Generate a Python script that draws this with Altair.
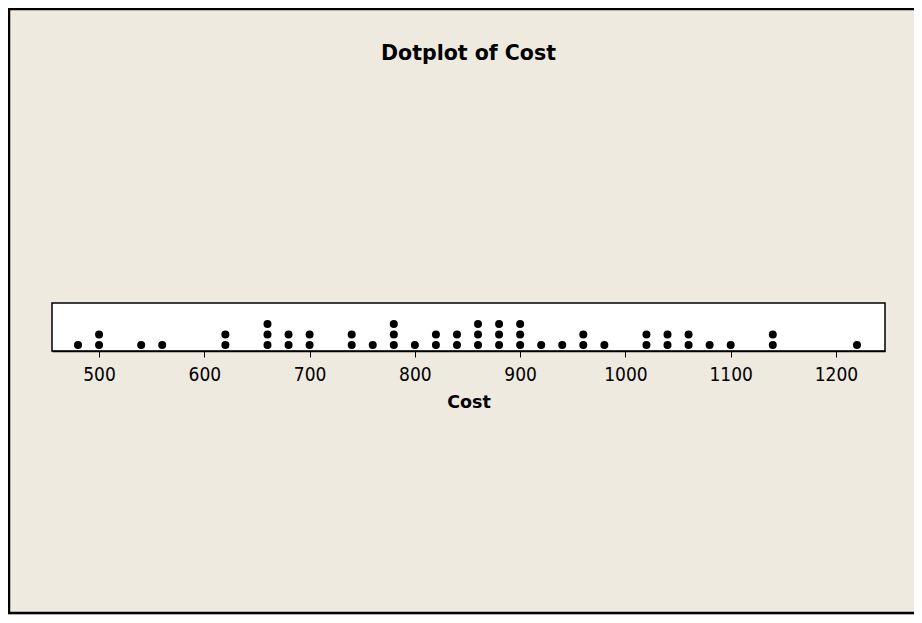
import altair as alt
import pandas as pd

# Dotplot bins (Cost value) and number of stacked dots at each
cost_bins = [480, 500, 540, 560, 620, 660, 680, 700, 740, 760, 780, 800, 820, 840,
             860, 880, 900, 920, 940, 960, 980, 1020, 1040, 1060, 1080, 1100, 1140, 1220]
counts = [1, 2, 1, 1, 2, 3, 2, 2, 2, 1, 3, 1, 2, 2,
          3, 3, 3, 1, 1, 2, 1, 2, 2, 2, 1, 1, 2, 1]
x_ticks = [500, 600, 700, 800, 900, 1000, 1100, 1200]
title_text = "Dotplot of Cost"

rows = []
for c, n in zip(cost_bins, counts):
    for k in range(1, n + 1):
        rows.append({"Cost": c, "stack": k})
df = pd.DataFrame(rows)

W, H = 833, 48
PAD_L, PAD_T, PAD_R, PAD_B = 44, 295, 29, 264

dots = alt.Chart(df).mark_circle(size=64, color="black", opacity=1).encode(
    x=alt.X("Cost:Q",
            scale=alt.Scale(domain=[455.3, 1246.6], nice=False, zero=False),
            axis=alt.Axis(values=x_ticks, format="d", title="Cost", grid=False, tickSize=6,
                          tickColor="black", domainColor="black", domainWidth=1.5,
                          labelFontSize=19, labelColor="black", labelPadding=8,
                          labelFont="DejaVu Sans Condensed", titleFont="DejaVu Sans",
                          titleFontSize=17.5, titleFontWeight="bold", titleColor="black",
                          titlePadding=9)),
    y=alt.Y("stack:Q", scale=alt.Scale(domain=[0.4286, 5.0], nice=False, zero=False),
            axis=None),
)

frame = alt.Chart(pd.DataFrame({"a": [0]})).mark_rect(
    fill=None, stroke="black", strokeWidth=2.5
).encode(
    x=alt.value(-PAD_L + 1), x2=alt.value(W + PAD_R + 10),
    y=alt.value(-PAD_T + 1), y2=alt.value(H + PAD_B - 2),
)

title = alt.Chart(pd.DataFrame({"t": [title_text]})).mark_text(
    font="DejaVu Sans", fontSize=20.5, fontWeight="bold", color="black",
    align="center", baseline="alphabetic"
).encode(
    text="t:N", x=alt.value(W / 2), y=alt.value(-243),
)

chart = alt.layer(frame, dots, title).properties(
    width=W, height=H,
    autosize=alt.AutoSizeParams(type="none"),
    padding={"left": PAD_L, "top": PAD_T, "right": PAD_R, "bottom": PAD_B},
    background="#EEEAE0",
).configure_view(fill="white", stroke="black", strokeWidth=1.5)

chart.save("out.html", embed_options={"renderer": "svg", "actions": False})
